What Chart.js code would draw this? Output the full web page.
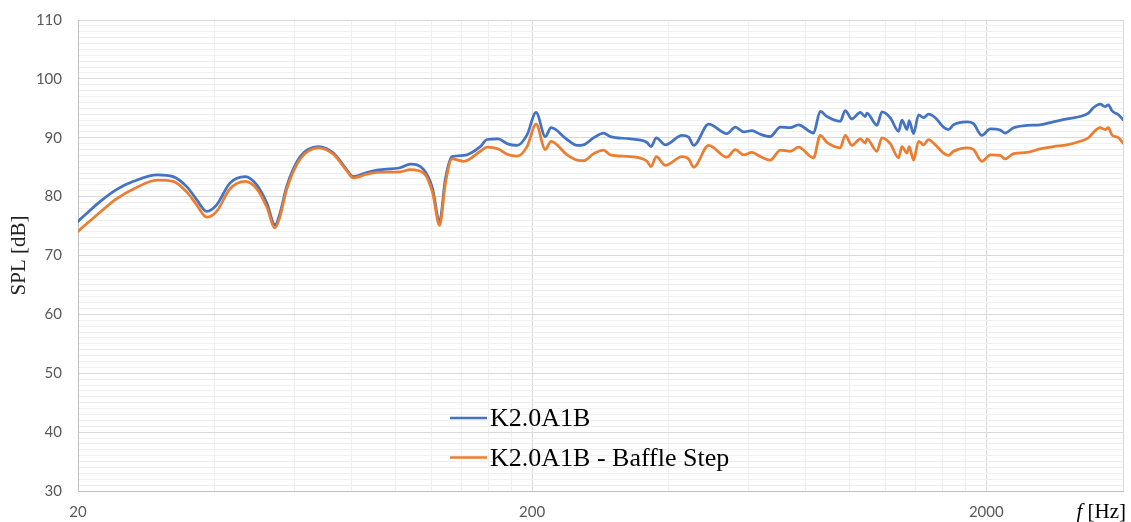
<!DOCTYPE html>
<html>
<head>
<meta charset="utf-8">
<title>SPL K2.0A1B</title>
<script src="https://cdn.jsdelivr.net/npm/chart.js@4.4.1/dist/chart.umd.min.js"></script>
<style>
    html, body { margin: 0; padding: 0; background: #ffffff; }
    #wrap { width: 1131px; height: 522px; }
</style>
</head>
<body>
<div id="wrap"><canvas id="splChart" width="1131" height="522"></canvas></div>
<script>
// Frequency response - measured SPL and SPL with baffle step correction

// Frequencies [Hz]
const freqs = [
    20, 22.4, 24.3, 26.5, 29.9, 32.4, 34.7, 36.5, 38.4, 40.4, 43.2, 46.7, 49.5, 52.1, 54.3, 55.7, 57.6, 61.7, 67.7, 73.0, 78.1, 80.7, 86.4, 91.0, 102.4,
    107.9, 115.4, 120.6, 125.1, 128.8, 133.3, 141.4, 153.8, 159.1, 168.5, 176.1, 185.3, 194.9, 204.0, 213.8,
    220.1, 238.8, 251.1, 259.6, 273.2, 287.3, 297.2, 329.0, 358.0, 365.4, 375.4, 393.0, 427.6, 442.2, 453.6,
    489.4, 537.0, 560.4, 584.4, 609.6, 635.8,
    668.8, 703.9, 740.4, 772, 833, 861.8, 891.6, 953.8, 978.2, 1012, 1056, 1083, 1092, 1149, 1178, 1229,
    1282, 1304, 1338, 1353, 1383, 1419, 1455, 1492, 1544, 1610, 1651, 1694, 1813, 1874, 1956, 2040,
    2146, 2201, 2296, 2458, 2628, 2812, 3010, 3219, 3357, 3443, 3562, 3653, 3715, 3780, 3908, 4000
];

// K2.0A1B [dB]
const splRaw = [
    75.8, 79.2, 81.2, 82.6, 83.7, 83.4, 81.7, 79.5, 77.5, 78.6, 82.3, 83.4, 82.0, 78.9, 75.2, 77.2, 81.7, 86.8, 88.5, 87.4, 84.6, 83.4, 84.1, 84.5, 84.9,
    85.5, 84.6, 81.5, 75.8, 83.0, 86.8, 87.0, 88.5, 89.7, 89.8, 89.0, 88.7, 90.5, 94.3, 90.2,
    91.7, 89.7, 88.7, 88.8, 90.0, 90.8, 90.2, 89.8, 89.2, 88.5, 90.0, 88.8, 90.4, 90.1, 88.7,
    92.3, 90.7, 91.8, 91.0, 91.2, 90.6,
    90.2, 91.8, 91.7, 92.2, 90.8, 94.5, 93.6, 92.8, 94.6, 93.2, 94.3, 93.6, 94.2, 92.1, 94.4, 93.4,
    91.1, 93.0, 91.4, 92.9, 90.7, 93.9, 93.4, 94.0, 93.4, 91.8, 91.4, 92.2, 92.7, 92.4, 90.4, 91.5,
    91.3, 90.8, 91.7, 92.1, 92.2, 92.7, 93.2, 93.6, 94.2, 95.1, 95.7, 95.3, 95.6, 94.6, 93.9, 93.1
];

// K2.0A1B - Baffle Step [dB]
const splBaffle = [
    74.1, 77.4, 79.6, 81.3, 82.8, 82.6, 80.8, 78.6, 76.5, 77.5, 81.3, 82.6, 81.3, 78.2, 74.7, 76.6, 81.2, 86.4, 88.3, 87.2, 84.4, 83.2, 83.8, 84.1, 84.2,
    84.6, 84.0, 80.8, 75.1, 82.2, 86.4, 86.0, 87.7, 88.4, 88.1, 87.2, 86.9, 88.5, 92.3, 88.0,
    89.4, 87.1, 86.2, 86.1, 87.3, 87.9, 87.1, 86.8, 86.0, 85.1, 86.8, 85.3, 86.8, 86.4, 85.0,
    88.7, 86.7, 88.0, 87.1, 87.5, 86.8,
    86.2, 87.9, 87.7, 88.4, 86.6, 90.4, 89.2, 88.3, 90.4, 88.7, 89.8, 89.1, 89.8, 87.7, 90.0, 89.0,
    86.6, 88.5, 87.4, 88.5, 86.2, 89.4, 88.8, 89.7, 88.8, 87.4, 87.0, 87.7, 88.3, 88.0, 86.0, 87.1,
    87.0, 86.4, 87.3, 87.5, 88.1, 88.5, 88.8, 89.4, 90.0, 90.9, 91.7, 91.4, 91.7, 90.5, 90.0, 89.1
];

const seriesNames = ['K2.0A1B', 'K2.0A1B - Baffle Step'];
const seriesColors = ['#4472C4', '#ED7D31'];

// Axis ticks
const xTicks = [20, 40, 60, 80, 100, 120, 140, 160, 180, 200, 400, 600, 800, 1000, 1200, 1400, 1600, 1800, 2000, 4000];
const xLabels = [20, 200, 2000];
const xMin = 20, xMax = 4000;
const yMin = 30, yMax = 110, yMajor = 10, yMinor = 1;

const tickFont = { family: 'Lato', size: 15 };
const serif = 'Liberation Serif, Times New Roman, serif';

document.addEventListener('DOMContentLoaded', function() {
    createSplChart();
});

function toPoints(values) {
    return freqs.map((f, i) => ({ x: f, y: values[i] }));
}

// Legend drawn inside the plot area
const innerLegend = {
    id: 'innerLegend',
    afterDatasetsDraw(chart) {
        const ctx = chart.ctx;
        const rows = [418, 457.5];
        ctx.save();
        chart.data.datasets.forEach((ds, i) => {
            const y = rows[i];
            ctx.strokeStyle = ds.borderColor;
            ctx.lineWidth = 2.5;
            ctx.beginPath();
            ctx.moveTo(450, y);
            ctx.lineTo(487, y);
            ctx.stroke();
            ctx.fillStyle = '#000000';
            ctx.font = '26px ' + serif;
            ctx.textAlign = 'left';
            ctx.textBaseline = 'alphabetic';
            ctx.fillText(ds.label, 490, y + 8);
        });
        ctx.restore();
    }
};

// Title of the frequency axis: italic f + unit
const freqTitle = {
    id: 'freqTitle',
    afterDraw(chart) {
        const ctx = chart.ctx;
        ctx.save();
        ctx.fillStyle = '#000000';
        ctx.textBaseline = 'alphabetic';
        ctx.textAlign = 'left';
        ctx.font = '21px ' + serif;
        const unit = ' [Hz]';
        const wUnit = ctx.measureText(unit).width;
        ctx.font = 'italic 21px ' + serif;
        const wF = ctx.measureText('f').width;
        const x0 = 1126 - wUnit - wF;
        ctx.fillText('f', x0, 518);
        ctx.font = '21px ' + serif;
        ctx.fillText(unit, x0 + wF, 518);
        ctx.restore();
    }
};

function createSplChart() {
    const ctx = document.getElementById('splChart').getContext('2d');

    new Chart(ctx, {
        type: 'line',
        data: {
            datasets: [
                {
                    label: seriesNames[0],
                    data: toPoints(splRaw),
                    borderColor: seriesColors[0],
                    order: 1
                },
                {
                    label: seriesNames[1],
                    data: toPoints(splBaffle),
                    borderColor: seriesColors[1],
                    order: 0
                }
            ]
        },
        options: {
            responsive: false,
            animation: false,
            layout: { padding: { top: 20, right: 8, left: 0, bottom: 0 } },
            elements: {
                point: { radius: 0 },
                line: {
                    borderWidth: 2.75,
                    cubicInterpolationMode: 'monotone',
                    borderJoinStyle: 'round',
                    borderCapStyle: 'round',
                    fill: false
                }
            },
            plugins: {
                legend: { display: false },
                tooltip: { enabled: false }
            },
            scales: {
                x: {
                    type: 'logarithmic',
                    min: xMin,
                    max: xMax,
                    afterBuildTicks: function(scale) {
                        scale.ticks = xTicks.map(v => ({ value: v }));
                    },
                    afterFit: function(scale) {
                        scale.height = 31;
                        scale.paddingLeft = 0;
                        scale.paddingRight = 0;
                    },
                    grid: {
                        drawTicks: false,
                        color: function(c) {
                            const v = c.tick ? c.tick.value : 0;
                            return (xLabels.includes(v) || v === xMax) ? '#d9d9d9' : '#efefef';
                        }
                    },
                    border: { color: '#bfbfbf' },
                    ticks: {
                        autoSkip: false,
                        maxRotation: 0,
                        padding: 12,
                        color: '#595959',
                        font: tickFont,
                        callback: function(value) {
                            return xLabels.includes(value) ? String(value) : '';
                        }
                    }
                },
                y: {
                    type: 'linear',
                    min: yMin,
                    max: yMax,
                    afterFit: function(scale) {
                        scale.width = 78;
                        scale.paddingTop = 0;
                        scale.paddingBottom = 0;
                    },
                    grid: {
                        drawTicks: false,
                        color: function(c) {
                            const v = c.tick ? c.tick.value : 0;
                            return v % yMajor === 0 ? '#d9d9d9' : '#f0f0f0';
                        }
                    },
                    border: { color: '#bfbfbf' },
                    ticks: {
                        stepSize: yMinor,
                        autoSkip: false,
                        padding: 16,
                        color: '#595959',
                        font: tickFont,
                        callback: function(value) {
                            return value % yMajor === 0 ? String(value) : '';
                        }
                    },
                    title: {
                        display: true,
                        text: 'SPL [dB]',
                        color: '#222222',
                        padding: { top: 7, bottom: 0 },
                        font: { family: serif, size: 21 }
                    }
                }
            }
        },
        plugins: [innerLegend, freqTitle]
    });
}
</script>
</body>
</html>
